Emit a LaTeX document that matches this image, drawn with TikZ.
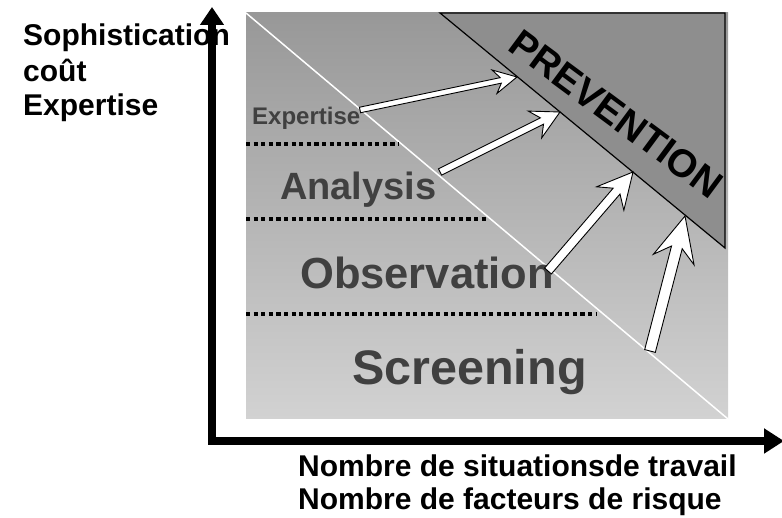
\documentclass[tikz,border=0pt]{standalone}
\usepackage{fontspec}
\setmainfont{Liberation Sans}
\usetikzlibrary{arrows.meta,calc}

\definecolor{bgtop}{RGB}{152,152,152}
\definecolor{bgbottom}{RGB}{210,210,210}
\definecolor{prevgray}{RGB}{142,142,142}
\definecolor{levelgray}{RGB}{64,64,64}

\tikzset{
  axislabel/.style={anchor=base west, inner sep=0pt, font=\fontsize{30}{34}\selectfont\bfseries},
  levellabel/.style={anchor=base west, inner sep=0pt, text=levelgray},
  levelline/.style={line width=4pt, dash pattern=on 4.2pt off 3.4pt},
  whitearrow/.style={draw=black, fill=white, line width=0.9pt, line join=miter},
}

% block arrow: start, tip, half shaft width, head length, half head width
\newcommand\blockarrow[5]{%
  \draw[whitearrow] ($(#1)!#3!90:(#2)$) -- ($(#2)!0.72*#4!(#1)!#3!90:(#2)$)
    -- ($(#2)!#4!(#1)!#5!90:(#2)$) -- (#2)
    -- ($(#2)!#4!(#1)!#5!-90:(#2)$) -- ($(#2)!0.72*#4!(#1)!#3!-90:(#2)$)
    -- ($(#1)!#3!-90:(#2)$) -- cycle;}

\begin{document}
\begin{tikzpicture}[x=1pt,y=1pt]
    \useasboundingbox (0,0) rectangle (782,518);

    % shaded field and diagonal
    \shade[top color=bgtop, bottom color=bgbottom] (246,99) rectangle (728,505);
    \draw[white, line width=1.5pt] (246,505) -- (728,99);

    % prevention corner
    \filldraw[fill=prevgray, draw=black, line width=1.2pt, line join=miter] (440,505) -- (725,505) -- (725,270) -- cycle;
    \node[rotate=-36.5, font=\fontsize{39}{42}\selectfont\bfseries] (prev) at (616,404) {PREVENTION};

    % levels
    \draw[levelline] (246,374) -- (399,374);
    \draw[levelline] (246,299) -- (488,299);
    \draw[levelline] (246,204) -- (597,204);
    \node[levellabel, font=\fontsize{24}{26}\selectfont\bfseries] (lexp) at (252,393) {Expertise};
    \node[levellabel, font=\fontsize{38}{40}\selectfont\bfseries] (lana) at (280,318) {Analysis};
    \node[levellabel, font=\fontsize{43.5}{46}\selectfont\bfseries] (lobs) at (300,229) {Observation};
    \node[levellabel, font=\fontsize{48.5}{52}\selectfont\bfseries] (lscr) at (352,133) {Screening};

    % arrows towards prevention
    \coordinate (s1) at (360,408); \coordinate (t1) at (517,441);
    \coordinate (s2) at (440,346); \coordinate (t2) at (560,406);
    \coordinate (s3) at (548,247); \coordinate (t3) at (633,346);
    \coordinate (s4) at (650,167); \coordinate (t4) at (685,302);
    \blockarrow{s1}{t1}{2.8pt}{23pt}{12pt}
    \blockarrow{s2}{t2}{3.5pt}{28pt}{15pt}
    \blockarrow{s3}{t3}{4.5pt}{35pt}{18pt}
    \blockarrow{s4}{t4}{5.5pt}{45pt}{21pt}

    % axes
    \coordinate (orig) at (212,77);
    \coordinate (ytip) at (212,511);
    \coordinate (xtip) at (784,77);
    \draw[line width=8pt, line join=miter, {Triangle[length=18pt,width=23pt]}-{Triangle[length=20pt,width=24pt]}] (ytip) -- (orig) -- (xtip);

    \node[axislabel] (soph) at (23,472) {Sophistication};
    \node[axislabel] (cout) at (23,436) {coût};
    \node[axislabel] (expy) at (23,402) {Expertise};
    \node[axislabel] (nsit) at (298,41) {Nombre de situationsde travail};
    \node[axislabel] (nfac) at (298,8) {Nombre de facteurs de risque};
\end{tikzpicture}
\end{document}
